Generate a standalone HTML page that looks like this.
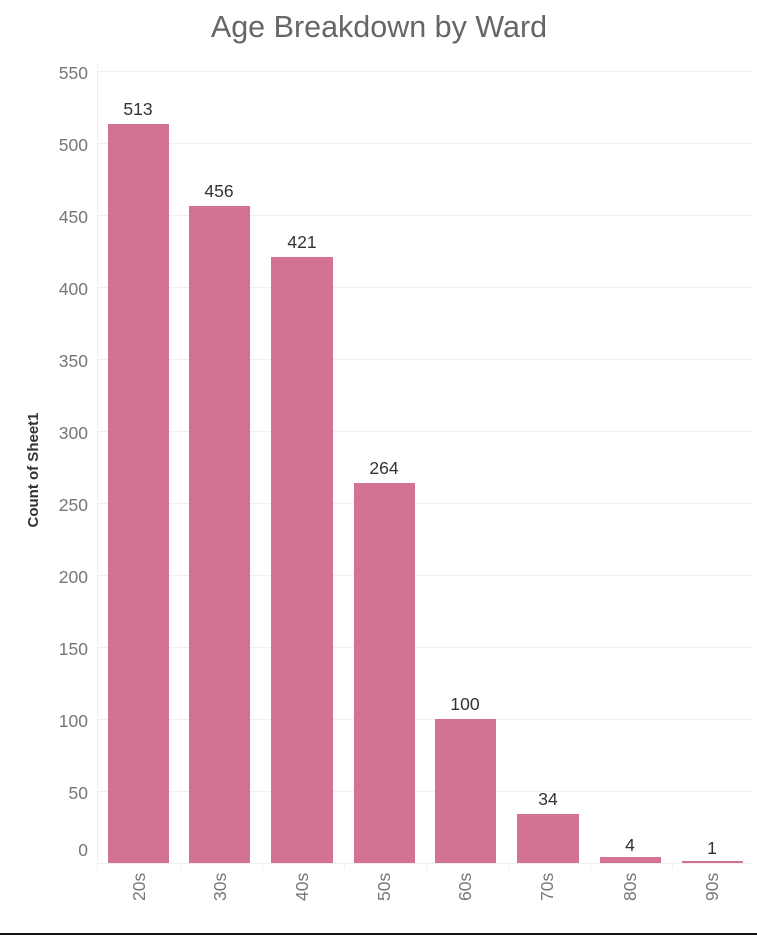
<!DOCTYPE html>
<html><head><meta charset="utf-8"><style>
body{margin:0;background:#fff;width:757px;height:936px;overflow:hidden;font-family:"Liberation Sans",sans-serif}
</style></head><body>
<svg width="757" height="936" xmlns="http://www.w3.org/2000/svg" font-family="Liberation Sans, sans-serif">
<text x="379" y="37" text-anchor="middle" font-size="30.5" fill="#666">Age Breakdown by Ward</text>
<g stroke="#efefef" stroke-width="1">
<line x1="97" x2="752" y1="71.5" y2="71.5"/><line x1="97" x2="752" y1="143.5" y2="143.5"/>
<line x1="97" x2="752" y1="215.5" y2="215.5"/><line x1="97" x2="752" y1="287.5" y2="287.5"/>
<line x1="97" x2="752" y1="359.5" y2="359.5"/><line x1="97" x2="752" y1="431.5" y2="431.5"/>
<line x1="97" x2="752" y1="503.5" y2="503.5"/><line x1="97" x2="752" y1="575.5" y2="575.5"/>
<line x1="97" x2="752" y1="647.5" y2="647.5"/><line x1="97" x2="752" y1="719.5" y2="719.5"/>
<line x1="97" x2="752" y1="791.5" y2="791.5"/><line x1="97" x2="752" y1="863.5" y2="863.5"/>
<line x1="97.5" x2="97.5" y1="64" y2="869"/>
<line x1="97.5" x2="97.5" y1="863" y2="870"/><line x1="180.5" x2="180.5" y1="863" y2="870"/>
<line x1="262.5" x2="262.5" y1="863" y2="870"/><line x1="344.5" x2="344.5" y1="863" y2="870"/>
<line x1="426.5" x2="426.5" y1="863" y2="870"/><line x1="508.5" x2="508.5" y1="863" y2="870"/>
<line x1="590.5" x2="590.5" y1="863" y2="870"/><line x1="672.5" x2="672.5" y1="863" y2="870"/>
</g>
<g font-size="17.5" fill="#777" text-anchor="end">
<text x="88" y="79">550</text><text x="88" y="151">500</text><text x="88" y="223">450</text>
<text x="88" y="295">400</text><text x="88" y="367">350</text><text x="88" y="439">300</text>
<text x="88" y="511">250</text><text x="88" y="583">200</text><text x="88" y="655">150</text>
<text x="88" y="727">100</text><text x="88" y="799">50</text><text x="88" y="856">0</text>
</g>
<text transform="translate(38,470) rotate(-90)" text-anchor="middle" font-size="15" font-weight="bold" fill="#333">Count of Sheet1</text>
<g fill="#d37295">
<rect x="108" y="124" width="61" height="739"/>
<rect x="189" y="206" width="61" height="657"/>
<rect x="271" y="257" width="62" height="606"/>
<rect x="354" y="483" width="61" height="380"/>
<rect x="435" y="719" width="61" height="144"/>
<rect x="517" y="814" width="62" height="49"/>
<rect x="600" y="857" width="61" height="6"/>
<rect x="682" y="861" width="61" height="2"/>
</g>
<g font-size="17.5" fill="#333" text-anchor="middle">
<text x="138" y="115">513</text><text x="219" y="197">456</text><text x="302" y="248">421</text>
<text x="384" y="474">264</text><text x="465" y="710">100</text><text x="548" y="805">34</text>
<text x="630" y="851">4</text><text x="712" y="854">1</text>
</g>
<g font-size="17.5" fill="#777">
<text transform="translate(145,901) rotate(-90)">20s</text>
<text transform="translate(226,901) rotate(-90)">30s</text>
<text transform="translate(308,901) rotate(-90)">40s</text>
<text transform="translate(390,901) rotate(-90)">50s</text>
<text transform="translate(471,901) rotate(-90)">60s</text>
<text transform="translate(553,901) rotate(-90)">70s</text>
<text transform="translate(636,901) rotate(-90)">80s</text>
<text transform="translate(718,901) rotate(-90)">90s</text>
</g>
<rect x="0" y="933" width="757" height="2" fill="#111"/>
</svg>
</body></html>
